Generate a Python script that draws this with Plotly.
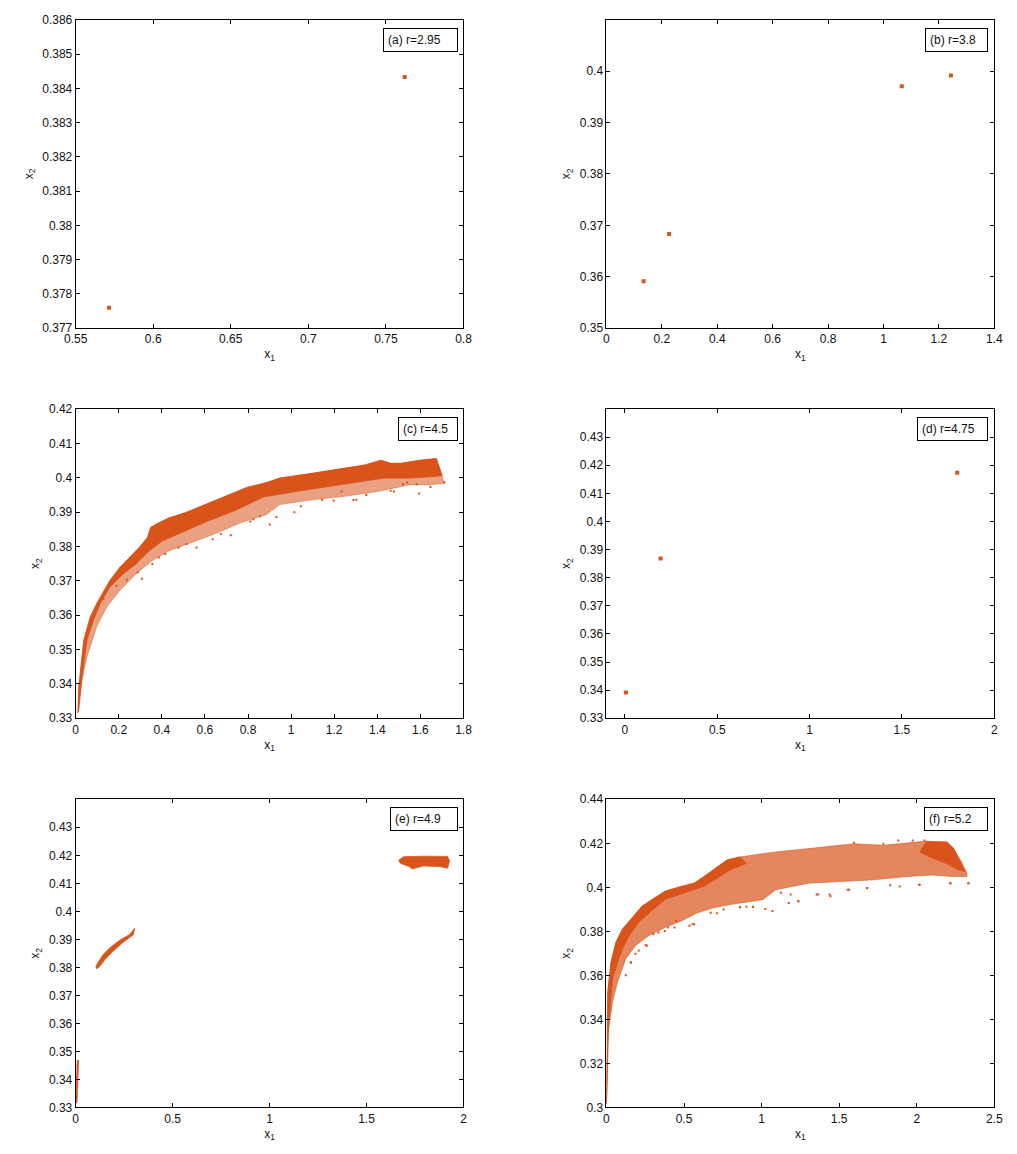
import plotly.graph_objects as go

# ---------------- data ----------------
COLOR = "#D9541A"
MED_C = "rgba(217,84,26,0.55)"
MED_F = "rgba(217,84,26,0.7)"

# (a) r=2.95  period-2 points
a_x = [0.5715, 0.7621]
a_y = [0.37759, 0.38433]
# (b) r=3.8  period-4 points
b_x = [0.134, 0.226, 1.066, 1.2435]
b_y = [0.3591, 0.3683, 0.39705, 0.39917]
# (d) r=4.75 period-3 points
d_x = [0.005, 0.193, 1.7995]
d_y = [0.3392, 0.3868, 0.4173]

# (c) r=4.5 chaotic band: upper envelope (left->right)
c_up_x = [0.0106, 0.015, 0.038, 0.068, 0.098, 0.129, 0.159, 0.205, 0.250, 0.295, 0.333, 0.348,
          0.371, 0.432, 0.508, 0.583, 0.659, 0.735, 0.795, 0.886, 0.947, 1.098, 1.250, 1.341,
          1.417, 1.462, 1.508, 1.598, 1.674, 1.701]
c_up_y = [0.3317, 0.3394, 0.3528, 0.3595, 0.3634, 0.3667, 0.3701, 0.3739, 0.3768, 0.3797, 0.3826,
          0.3855, 0.3864, 0.3883, 0.3898, 0.3917, 0.3936, 0.3955, 0.3972, 0.3986, 0.3999, 0.4013,
          0.4027, 0.4037, 0.4051, 0.4042, 0.4042, 0.4051, 0.4056, 0.4008]
# dense core lower edge (right->left)
c_core_lo_x = [1.701, 1.644, 1.553, 1.432, 1.326, 1.174, 1.023, 0.871, 0.735, 0.614, 0.508,
               0.402, 0.341, 0.280, 0.220, 0.159, 0.114, 0.083, 0.053, 0.032, 0.015]
c_core_lo_y = [0.4006, 0.4003, 0.3999, 0.3999, 0.3989, 0.3975, 0.3960, 0.3944, 0.3903, 0.3874,
               0.3845, 0.3816, 0.3787, 0.3749, 0.3720, 0.3682, 0.3634, 0.3586, 0.3528, 0.3432,
               0.3327]
# sparser fringe lower edge (right->left)
c_med_lo_x = [1.712, 1.644, 1.553, 1.402, 1.250, 1.098, 0.947, 0.886, 0.765, 0.659, 0.553,
              0.432, 0.356, 0.280, 0.205, 0.144, 0.098, 0.053, 0.023, 0.012]
c_med_lo_y = [0.3984, 0.3980, 0.3980, 0.3960, 0.3946, 0.3936, 0.3922, 0.3893, 0.3869, 0.3840,
              0.3816, 0.3787, 0.3759, 0.3720, 0.3672, 0.3624, 0.3567, 0.3480, 0.3394, 0.3320]
# isolated points of (c)
c_out_x = [1.594, 1.647, 1.711, 0.901, 0.561, 0.636, 0.720, 0.308, 0.238, 0.189, 0.129, 0.515,
           0.674, 0.811, 0.856, 0.386, 0.356, 0.288, 0.825, 0.932, 1.015, 1.045, 1.144, 1.198,
           1.289, 1.303, 1.349, 1.462, 1.477, 1.519, 1.583, 1.538, 0.477, 0.416, 1.234]
c_out_y = [0.3954, 0.3973, 0.3987, 0.3864, 0.3797, 0.3821, 0.3833, 0.3706, 0.3703, 0.3686,
           0.3648, 0.3807, 0.3836, 0.3873, 0.3888, 0.3768, 0.3749, 0.3725, 0.3879, 0.3886,
           0.3900, 0.3917, 0.3936, 0.3934, 0.3935, 0.3936, 0.3950, 0.3962, 0.3960, 0.3981,
           0.3981, 0.3986, 0.3797, 0.3778, 0.3960]

# (e) r=4.9  three chaotic pieces (outlines)
e1_x = [0.001, 0.007, 0.011, 0.015, 0.008, 0.004, 0.000]
e1_y = [0.3316, 0.3318, 0.3390, 0.3468, 0.3468, 0.3400, 0.3330]
e2_x = [0.104, 0.113, 0.143, 0.177, 0.227, 0.278, 0.3045, 0.298, 0.244, 0.193, 0.151, 0.122, 0.109]
e2_y = [0.3803, 0.3815, 0.3847, 0.3870, 0.3897, 0.3917, 0.3940, 0.3917, 0.3889, 0.3858,
        0.3828, 0.3802, 0.3795]
e3_x = [1.666, 1.690, 1.800, 1.918, 1.928, 1.918, 1.876, 1.792, 1.733, 1.725, 1.674]
e3_y = [0.4182, 0.4195, 0.4197, 0.4196, 0.4180, 0.4154, 0.4160, 0.4162, 0.4151, 0.4158, 0.4172]

# (f) r=5.2 chaotic cloud: upper envelope (left->right)
f_up_x = [0.000, 0.002, 0.0084, 0.0295, 0.061, 0.103, 0.166, 0.229, 0.293, 0.377, 0.482, 0.566,
          0.629, 0.713, 0.777, 0.861, 1.008, 1.092, 1.303, 1.597, 1.787, 1.976, 2.061, 2.187,
          2.229, 2.282, 2.324]
f_up_y = [0.3018, 0.3300, 0.3526, 0.3660, 0.3750, 0.3810, 0.3862, 0.3914, 0.3944, 0.3982,
          0.4004, 0.4019, 0.4049, 0.4094, 0.4124, 0.4138, 0.4153, 0.4161, 0.4176, 0.4198,
          0.4191, 0.4206, 0.4210, 0.4206, 0.4183, 0.4124, 0.4064]
# sparse cloud lower edge (right->left)
f_med_lo_x = [2.324, 2.229, 2.103, 1.934, 1.723, 1.513, 1.303, 1.092, 1.008, 0.798, 0.692,
              0.587, 0.482, 0.377, 0.271, 0.187, 0.124, 0.072, 0.040, 0.0084, 0.003]
f_med_lo_y = [0.4049, 0.4049, 0.4056, 0.4049, 0.4034, 0.4026, 0.4019, 0.3989, 0.3944, 0.3922,
              0.3907, 0.3884, 0.3847, 0.3817, 0.3780, 0.3735, 0.3675, 0.3571, 0.3481, 0.3332,
              0.3018]
# dense left part lower edge (right->left); upper edge = f_up up to x=0.861
f_core_up_n = 16
f_core_lo_x = [0.903, 0.798, 0.713, 0.629, 0.503, 0.377, 0.293, 0.208, 0.145, 0.103, 0.072,
               0.040, 0.0147, 0.004, 0.001]
f_core_lo_y = [0.4109, 0.4079, 0.4040, 0.4005, 0.3975, 0.3945, 0.3895, 0.3840, 0.3780, 0.3720,
               0.3660, 0.3586, 0.3391, 0.3100, 0.3018]
# dense cap at right end
f_cap_x = [2.019, 2.061, 2.197, 2.239, 2.313, 2.271, 2.187, 2.082]
f_cap_y = [0.4161, 0.4206, 0.4206, 0.4176, 0.4071, 0.4079, 0.4109, 0.4138]
# isolated points of (f)
f_out_x = [1.024, 1.444, 1.238, 2.332, 2.216, 2.016, 1.680, 1.564, 1.365, 0.944, 0.860, 0.755,
           0.713, 0.555, 0.439, 0.376, 0.254, 0.158, 0.187, 0.124, 1.070, 1.175, 1.890, 1.974,
           1.596, 1.785, 2.334, 2.218, 2.019, 1.829, 1.681, 1.555, 1.439, 1.355, 1.235, 1.187,
           1.124, 1.881, 2.050, 0.945, 0.903, 0.861, 0.672, 0.566, 0.535, 0.450, 0.398, 0.335,
           0.303, 0.261, 0.208, 0.156]
f_out_y = [0.3902, 0.3959, 0.3937, 0.4019, 0.4019, 0.4012, 0.3997, 0.3989, 0.3967, 0.3911,
           0.3910, 0.3899, 0.3882, 0.3832, 0.3817, 0.3802, 0.3738, 0.3657, 0.3698, 0.3601,
           0.3892, 0.3929, 0.4004, 0.4213, 0.4203, 0.4198, 0.4019, 0.4019, 0.4012, 0.4010,
           0.3996, 0.3989, 0.3967, 0.3967, 0.3937, 0.3967, 0.3975, 0.4213, 0.4213, 0.3912,
           0.3912, 0.3911, 0.3884, 0.3832, 0.3825, 0.3847, 0.3817, 0.3795, 0.3787, 0.3735,
           0.3713, 0.3660]

# axes: ranges and tick values
labels = ["(a) r=2.95", "(b) r=3.8", "(c) r=4.5", "(d) r=4.75", "(e) r=4.9", "(f) r=5.2"]
x_ranges = [[0.55, 0.8], [0, 1.4], [0, 1.8], [-0.1, 2], [0, 2], [0, 2.5]]
y_ranges = [[0.377, 0.386], [0.35, 0.41], [0.33, 0.42], [0.33, 0.44], [0.33, 0.44], [0.3, 0.44]]
x_ticks = [[0.55, 0.6, 0.65, 0.7, 0.75, 0.8],
           [0, 0.2, 0.4, 0.6, 0.8, 1, 1.2, 1.4],
           [0, 0.2, 0.4, 0.6, 0.8, 1, 1.2, 1.4, 1.6, 1.8],
           [0, 0.5, 1, 1.5, 2],
           [0, 0.5, 1, 1.5, 2],
           [0, 0.5, 1, 1.5, 2, 2.5]]
y_ticks = [[0.377, 0.378, 0.379, 0.38, 0.381, 0.382, 0.383, 0.384, 0.385, 0.386],
           [0.35, 0.36, 0.37, 0.38, 0.39, 0.4],
           [0.33, 0.34, 0.35, 0.36, 0.37, 0.38, 0.39, 0.4, 0.41, 0.42],
           [0.33, 0.34, 0.35, 0.36, 0.37, 0.38, 0.39, 0.4, 0.41, 0.42, 0.43],
           [0.33, 0.34, 0.35, 0.36, 0.37, 0.38, 0.39, 0.4, 0.41, 0.42, 0.43],
           [0.3, 0.32, 0.34, 0.36, 0.38, 0.4, 0.42, 0.44]]
box_w = [75, 63, 60, 71, 68, 64]

# ---------------- figure ----------------
W, H = 1017, 1154
col_dom = [[65 / W, 461 / W], [607 / W, 1003 / W]]
row_dom = [[1 - 325 / H, 1 - 13 / H], [1 - 720 / H, 1 - 407 / H], [1 - 1114 / H, 1 - 802 / H]]

fig = go.Figure()


def ax(i):
    return ("x" if i == 0 else f"x{i+1}"), ("y" if i == 0 else f"y{i+1}")


def add_points(i, xs, ys, size=4, symbol="square"):
    xa, ya = ax(i)
    fig.add_trace(go.Scatter(x=xs, y=ys, mode="markers", xaxis=xa, yaxis=ya,
                             marker=dict(color=COLOR, size=size, symbol=symbol,
                                         line=dict(width=0)),
                             hoverinfo="skip"))


def add_poly(i, xs, ys, fill):
    xa, ya = ax(i)
    fig.add_trace(go.Scatter(x=list(xs) + [xs[0]], y=list(ys) + [ys[0]], mode="lines",
                             fill="toself", fillcolor=fill, xaxis=xa, yaxis=ya,
                             line=dict(color=fill, width=0.8), hoverinfo="skip"))


# (a), (b), (d)
add_points(0, a_x, a_y)
add_points(1, b_x, b_y)
add_points(3, d_x, d_y)

# (c)
add_poly(2, c_up_x + c_med_lo_x, c_up_y + c_med_lo_y, MED_C)
add_poly(2, c_up_x + c_core_lo_x, c_up_y + c_core_lo_y, COLOR)
add_points(2, c_out_x, c_out_y, size=2)

# (e)
add_poly(4, e1_x, e1_y, COLOR)
add_poly(4, e2_x, e2_y, COLOR)
add_poly(4, e3_x, e3_y, COLOR)

# (f)
add_poly(5, f_up_x + f_med_lo_x, f_up_y + f_med_lo_y, MED_F)
add_poly(5, f_up_x[:f_core_up_n] + f_core_lo_x, f_up_y[:f_core_up_n] + f_core_lo_y, COLOR)
add_poly(5, f_cap_x, f_cap_y, COLOR)
add_points(5, f_out_x, f_out_y, size=2)

font = dict(family="Liberation Sans, Arial, sans-serif", size=12, color="#111")
layout = dict(width=W, height=H, margin=dict(l=0, r=0, t=0, b=0),
              paper_bgcolor="white", plot_bgcolor="white", showlegend=False, font=font)

annotations = []
for i in range(6):
    r, c = divmod(i, 2)
    xa, ya = ax(i)
    xk = "xaxis" if i == 0 else f"xaxis{i+1}"
    yk = "yaxis" if i == 0 else f"yaxis{i+1}"
    common = dict(showline=True, linecolor="black", linewidth=1, mirror="allticks",
                  ticks="inside", ticklen=4, tickwidth=1, tickcolor="black",
                  showgrid=False, zeroline=False, tickfont=font)
    layout[xk] = dict(domain=col_dom[c], anchor=ya, range=x_ranges[i],
                      tickmode="array", tickvals=x_ticks[i],
                      ticktext=["%g" % v for v in x_ticks[i]],
                      title=dict(text="x<sub>1</sub>", font=font, standoff=4), **common)
    layout[yk] = dict(domain=row_dom[r], anchor=xa, range=y_ranges[i],
                      tickmode="array", tickvals=y_ticks[i],
                      ticktext=["%g" % v for v in y_ticks[i]],
                      title=dict(text="x<sub>2</sub>", font=font, standoff=6), **common)
    annotations.append(dict(text=labels[i], xref=f"{xa} domain", yref=f"{ya} domain",
                            x=1 - 6 / 396, y=1 - 8 / 312, xanchor="right", yanchor="top",
                            showarrow=False, align="left", width=box_w[i] - 10,
                            bordercolor="black", borderwidth=1, borderpad=4,
                            bgcolor="white", font=font))
layout["annotations"] = annotations
fig.update_layout(**layout)

fig.write_html("out.html")
